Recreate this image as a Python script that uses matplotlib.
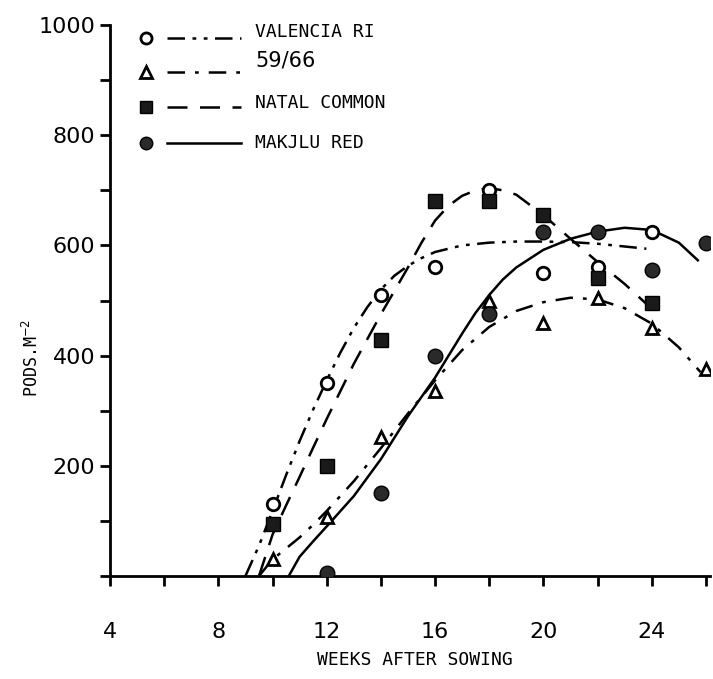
import matplotlib
matplotlib.use('Agg')
import numpy as np
from matplotlib import pyplot as plt

# observed points (weeks, pods per m2)
wk_val = [10, 12, 14, 16, 18, 20, 22, 24]
pods_val = [130, 350, 510, 560, 700, 550, 560, 625]

wk_5966 = [10, 12, 14, 16, 18, 20, 22, 24, 26]
pods_5966 = [30, 107, 252, 335, 500, 460, 505, 450, 375]

wk_natal = [10, 12, 14, 16, 18, 20, 22, 24]
pods_natal = [95, 200, 428, 680, 680, 655, 540, 495]

wk_mak = [12, 14, 16, 18, 20, 22, 24, 26]
pods_mak = [5, 150, 400, 475, 625, 625, 555, 605]

# fitted curves
cx_val = [9.0, 9.5, 10, 10.5, 11, 11.5, 12, 12.5, 13, 13.5, 14, 14.5, 15, 15.5, 16, 17, 18, 19, 20, 21, 22, 23, 23.8]
cy_val = [0, 55, 118, 183, 245, 302, 355, 405, 450, 488, 520, 545, 563, 577, 588, 600, 605, 607, 607, 606, 603, 598, 594]

cx_5966 = [9.5, 10, 10.5, 11, 11.5, 12, 13, 14, 15, 16, 17, 18, 19, 20, 21, 22, 23, 24, 25, 25.8]
cy_5966 = [0, 30, 50, 70, 93, 118, 172, 232, 295, 355, 410, 452, 481, 497, 505, 502, 486, 458, 415, 370]

cx_natal = [9.5, 10, 10.5, 11, 11.5, 12, 13, 14, 15, 15.5, 16, 16.5, 17, 17.5, 18, 18.5, 19, 20, 21, 22, 23, 24]
cy_natal = [0, 75, 128, 180, 233, 285, 385, 475, 560, 605, 645, 672, 690, 700, 704, 700, 692, 655, 612, 570, 530, 485]

cx_mak = [10.6, 11, 11.5, 12, 13, 14, 15, 16, 17, 17.5, 18, 18.5, 19, 20, 21, 22, 23, 24, 25, 25.7]
cy_mak = [0, 35, 63, 90, 145, 212, 290, 360, 440, 478, 510, 538, 560, 592, 612, 625, 632, 628, 605, 573]

labels = ['VALENCIA RI', '59/66', 'NATAL COMMON', 'MAKJLU RED']

mono = 'DejaVu Sans Mono'
narrow = ['Liberation Sans Narrow', 'DejaVu Sans']

fig = plt.figure(figsize=(7.13, 6.79), dpi=100)
ax = fig.add_axes([110/713, 103/679, 600/713, 551/679])

lw = 1.8
ls_val = (0, (7, 3, 1.5, 3, 1.5, 3))
ls_5966 = (0, (7, 4, 1.5, 4))
ls_natal = (0, (8, 5))

ax.plot(cx_val, cy_val, color='k', lw=lw, linestyle=ls_val)
ax.plot(cx_5966, cy_5966, color='k', lw=lw, linestyle=ls_5966)
ax.plot(cx_natal, cy_natal, color='k', lw=lw, linestyle=ls_natal)
ax.plot(cx_mak, cy_mak, color='k', lw=lw, linestyle='-')

ms = 9
ax.plot(wk_val, pods_val, 'o', ms=ms, mfc='white', mec='k', mew=2, zorder=5)
ax.plot(wk_5966, pods_5966, '^', ms=ms, mfc='white', mec='k', mew=2, zorder=5)
ax.plot(wk_natal, pods_natal, 's', ms=ms + 1, mfc='#1a1a1a', mec='k', mew=1, zorder=6)
ax.plot(wk_mak, pods_mak, 'o', ms=ms + 1.5, mfc='#2a2a2a', mec='k', mew=1, zorder=6)

# legend drawn by hand in axes fraction
rows_y = [0.976, 0.915, 0.851, 0.786]
marks = [('o', 'white', ls_val), ('^', 'white', ls_5966), ('s', '#1a1a1a', ls_natal), ('o', '#2a2a2a', '-')]
text_dy = [0.012, 0.02, 0.008, 0.0]
for y, (m, fc, ls), lab, dy in zip(rows_y, marks, labels, text_dy):
    ax.plot([0.06], [y], m, ms=ms - 1 if fc == 'white' else ms, mfc=fc, mec='k',
            mew=2 if fc == 'white' else 1, transform=ax.transAxes, clip_on=False)
    ax.plot([0.095, 0.218], [y, y], color='k', lw=lw, linestyle=ls,
            transform=ax.transAxes, clip_on=False)
    if lab == '59/66':
        ax.text(0.242, y + dy, lab, transform=ax.transAxes, fontsize=15,
                family=narrow, va='center', ha='left')
    else:
        ax.text(0.242, y + dy, lab, transform=ax.transAxes, fontsize=13,
                family=mono, va='center', ha='left')

ax.set_xlim(4, 26.15)
ax.set_ylim(0, 1000)
ax.spines['top'].set_visible(False)
ax.spines['right'].set_visible(False)
ax.spines['left'].set_linewidth(2)
ax.spines['bottom'].set_linewidth(2)

ax.set_xticks(np.arange(4, 27, 2))
ax.set_xticklabels(['4', '', '8', '', '12', '', '16', '', '20', '', '24', ''])
ax.set_yticks(np.arange(0, 1001, 100))
ax.set_yticklabels(['', '', '200', '', '400', '', '600', '', '800', '', '1000'])
ax.tick_params(axis='both', direction='out', length=7, width=2, labelsize=16)
ax.tick_params(axis='x', pad=26)
for t in ax.get_xticklabels() + ax.get_yticklabels():
    t.set_family(narrow)

fig.text(32/713, 1 - 358/679, 'PODS.M$^{-2}$', rotation=90, fontsize=12,
         family=mono, ha='center', va='center')
fig.text(415/713, 1 - 660/679, 'WEEKS AFTER SOWING', fontsize=13,
         family=mono, ha='center', va='center')

plt.savefig('out.png', dpi=100)
